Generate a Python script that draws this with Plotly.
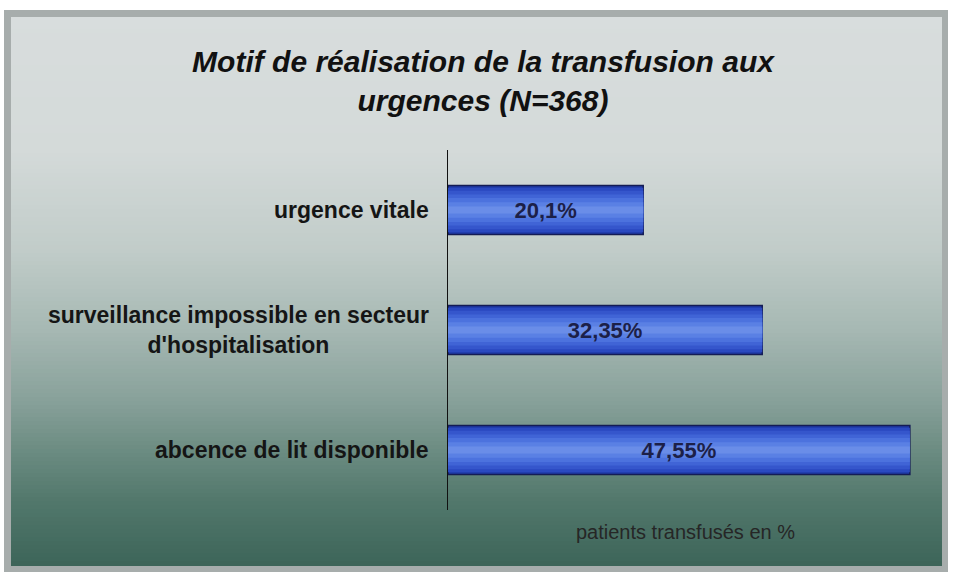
import plotly.graph_objects as go

# ---- data ----
categories = ["urgence vitale",
              "surveillance impossible en secteur<br>d'hospitalisation",
              "abcence de lit disponible"]
values = [20.1, 32.35, 47.55]
bar_labels = [str(v).replace(".", ",") + "%" for v in values]
title_text = "Motif de réalisation de la transfusion aux<br>urgences (N=368)"
x_title = "patients transfusés en %"

# ---- geometry (pixels) ----
W, H = 953, 575
L, R, T, B = 448, 31, 150, 65
pw, ph = W - L - R, H - T - B

def px(xp):
    return (xp - L) / pw

def py(yp):
    return (H - B - yp) / ph

fig = go.Figure()

# layered bars to imitate the blue gradient
layers = [(0.41, "#1f3aa8", dict(color="#141c55", width=1.5)),
          (0.37, "#2a49c0", dict(width=0)),
          (0.32, "#3556cc", dict(width=0)),
          (0.26, "#4064d6", dict(width=0)),
          (0.20, "#4c72de", dict(width=0)),
          (0.13, "#5a80e4", dict(width=0)),
          (0.06, "#6a8de8", dict(width=0))]
for i, (w, col, ln) in enumerate(layers):
    last = i == len(layers) - 1
    fig.add_trace(go.Bar(
        x=values, y=categories, orientation="h", width=w,
        marker=dict(color=col, line=ln),
        text=bar_labels if last else None,
        textposition="inside" if last else "none",
        insidetextanchor="middle",
        constraintext="none",
        textfont=dict(family="Liberation Sans, Arial", size=22, color="#1c2048",
                      weight="bold"),
        cliponaxis=False,
        hoverinfo="skip",
        showlegend=False,
    ))

# background gradient via stacked shapes
stops = [(12, (0xd8, 0xdd, 0xdd)), (150, (0xd4, 0xda, 0xd9)), (250, (0xc1, 0xcc, 0xc9)),
         (330, (0xa6, 0xb8, 0xb3)), (400, (0x88, 0xa1, 0x9a)), (450, (0x6c, 0x8c, 0x82)),
         (500, (0x52, 0x78, 0x6c)), (568, (0x3c, 0x64, 0x58))]

def col_at(y):
    for (y0, c0), (y1, c1) in zip(stops[:-1], stops[1:]):
        if y0 <= y <= y1:
            t = (y - y0) / (y1 - y0)
            return "rgb(%d,%d,%d)" % tuple(round(a + (b - a) * t) for a, b in zip(c0, c1))
    return "rgb(%d,%d,%d)" % stops[-1][1]

shapes = [dict(type="rect", xref="paper", yref="paper", layer="below",
               x0=px(4), x1=px(948), y0=py(10), y1=py(572),
               fillcolor="#a7adac", line=dict(width=0))]
top, bot, step = 17, 566, 4
y = top
while y < bot:
    y2 = min(y + step, bot)
    shapes.append(dict(type="rect", xref="paper", yref="paper", layer="below",
                       x0=px(11), x1=px(942), y0=py(y2), y1=py(y),
                       fillcolor=col_at((y + y2) / 2), line=dict(width=0)))
    y = y2

annotations = []
for c in categories:
    annotations.append(dict(text=c, xref="paper", yref="y", x=0, y=c, xshift=-17,
                            xanchor="right", yanchor="middle", align="center",
                            showarrow=False,
                            font=dict(family="Liberation Sans, Arial", size=23,
                                      color="#151515", weight="bold")))
annotations.append(dict(text=x_title, xref="paper", yref="paper", x=0.5, y=py(532),
                        xanchor="center", yanchor="middle", showarrow=False,
                        font=dict(family="Liberation Sans, Arial", size=20, color="#262626")))

fig.update_layout(
    width=W, height=H,
    margin=dict(l=L, r=R, t=T, b=B, pad=0),
    paper_bgcolor="white", plot_bgcolor="rgba(0,0,0,0)",
    barmode="overlay",
    title=dict(text=title_text, x=483 / W, xanchor="center",
               y=1 - 72 / H, yanchor="middle", yref="container",
               font=dict(family="Liberation Sans, Arial", size=30, color="#111111",
                         weight="bold", style="italic")),
    xaxis=dict(range=[0, 48.8], showgrid=False, zeroline=False, showticklabels=False,
               showline=False, ticks="", fixedrange=True),
    yaxis=dict(autorange="reversed", showgrid=False, zeroline=False,
               showticklabels=False, ticks="", showline=True, linecolor="#111111",
               linewidth=1),
    shapes=shapes, annotations=annotations,
    showlegend=False,
)

fig.write_html("out.html", config={"displayModeBar": False},
               post_script="document.body.style.margin='0';")
